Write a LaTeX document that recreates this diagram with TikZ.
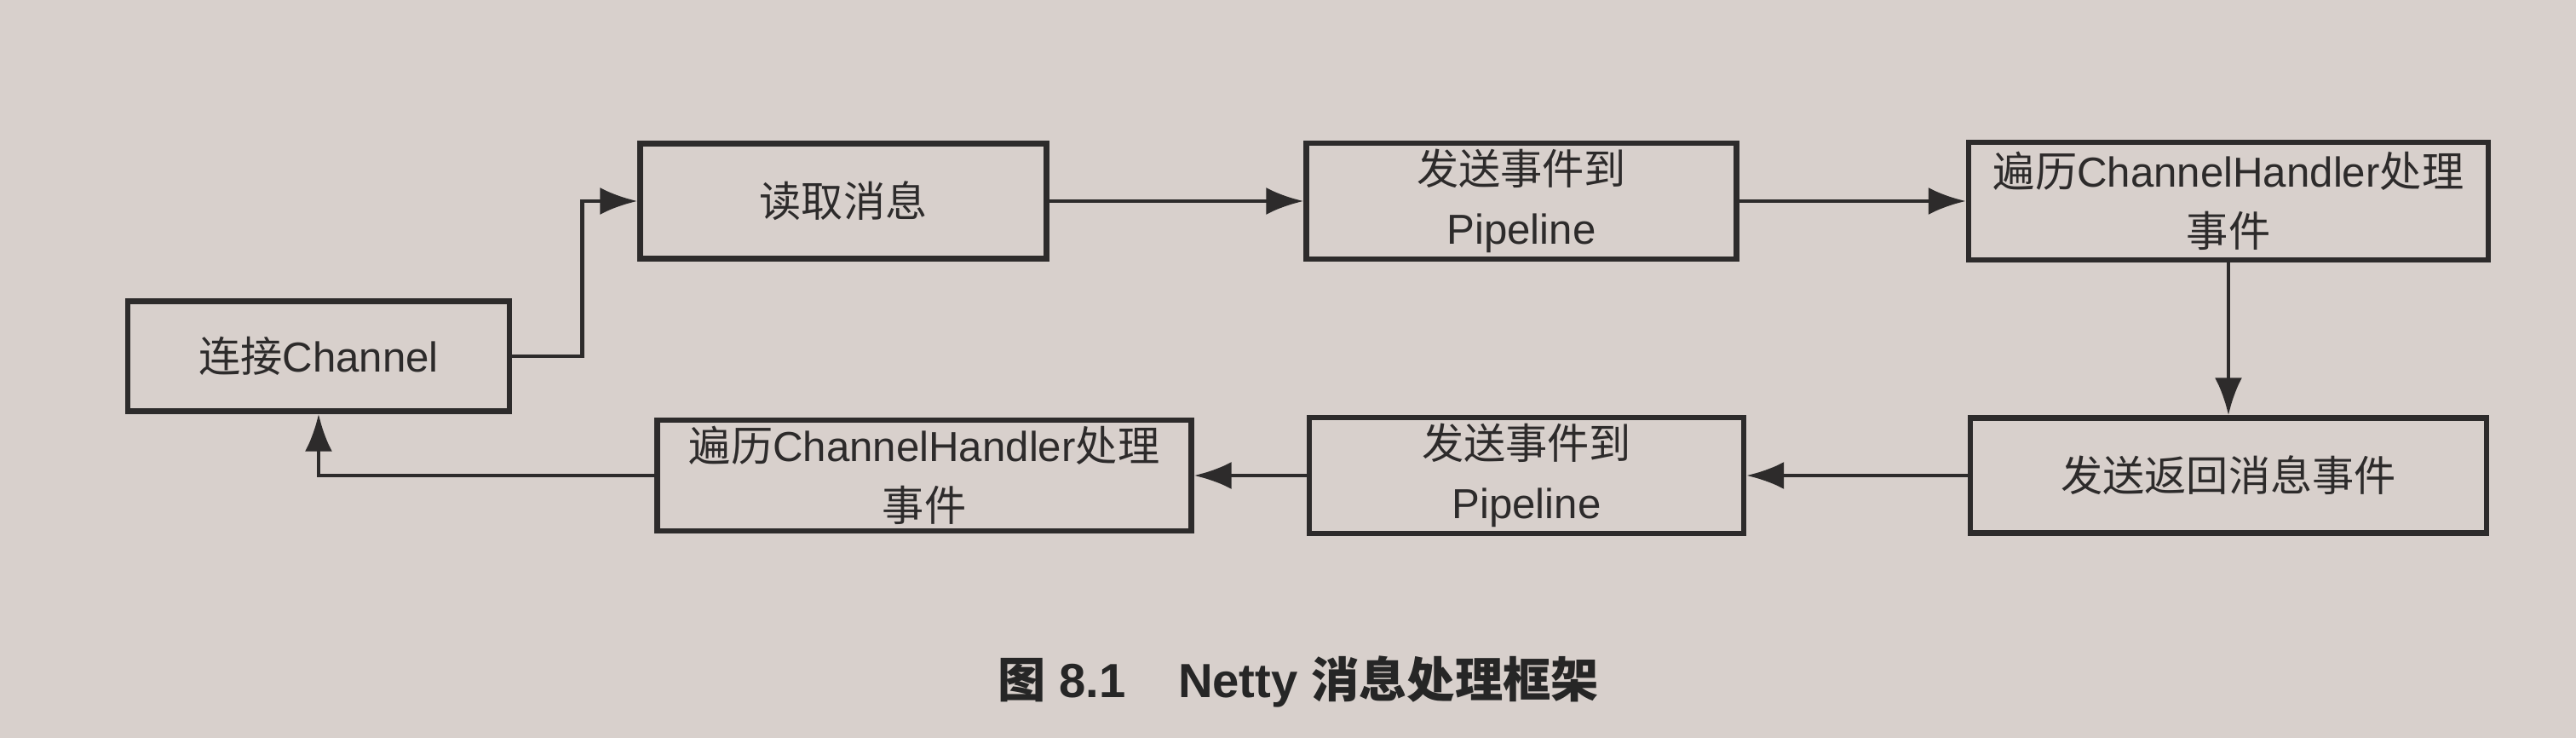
\documentclass[tikz,border=0pt]{standalone}
\usepackage{fontspec}
\setmainfont{Liberation Sans}
\newfontfamily\cjk{Noto Sans CJK SC}
\usetikzlibrary{arrows.meta}
\definecolor{paperGray}{RGB}{216,208,204}
\definecolor{inkGray}{RGB}{45,43,43}

\begin{document}
\begin{tikzpicture}[
		box/.style={draw=inkGray,line width=1.8pt,align=center,text=inkGray,
			font=\fontsize{14}{20}\selectfont,inner sep=2pt},
		flow/.style={draw=inkGray,line width=1.4pt,-{Latex[length=4.4mm,width=3.2mm]}}]
		\useasboundingbox[fill=paperGray] (0,0) rectangle (30.24,8.66);

		% upper row
		\node[box,minimum width=4.48cm,minimum height=1.29cm] (conn) at (3.74,4.48) {{\cjk 连接}Channel};
		\node[box,minimum width=4.77cm,minimum height=1.35cm] (read) at (9.90,6.30) {{\cjk 读取消息}};
		\node[box,minimum width=5.05cm,minimum height=1.33cm] (sendIn) at (17.86,6.30) {{\cjk 发送事件到}\\Pipeline};
		\node[box,minimum width=6.10cm,minimum height=1.38cm] (walkIn) at (26.16,6.30) {{\cjk 遍历}ChannelHandler{\cjk 处理}\\{\cjk 事件}};

		% lower row
		\node[box,minimum width=6.06cm,minimum height=1.35cm] (reply) at (26.16,3.08) {{\cjk 发送返回消息事件}};
		\node[box,minimum width=5.10cm,minimum height=1.29cm] (sendOut) at (17.92,3.08) {{\cjk 发送事件到}\\Pipeline};
		\node[box,minimum width=6.27cm,minimum height=1.23cm] (walkOut) at (10.85,3.08) {{\cjk 遍历}ChannelHandler{\cjk 处理}\\{\cjk 事件}};

		\draw[flow] (conn.east) -- ++(0.82,0) |- (read.west);
		\draw[flow] (read.east) -- (sendIn.west);
		\draw[flow] (sendIn.east) -- (walkIn.west);
		\draw[flow] (walkIn.south) -- (reply.north);
		\draw[flow] (reply.west) -- (sendOut.east);
		\draw[flow] (sendOut.west) -- (walkOut.east);
		\draw[flow] (walkOut.west) -| (conn.south);

		\node[font=\fontsize{16}{19}\selectfont\bfseries,text=black!85] (caption) at (15.24,0.66)
			{{\cjk 图} 8.1\hspace{1.1em}Netty {\cjk 消息处理框架}};
\end{tikzpicture}
\end{document}
